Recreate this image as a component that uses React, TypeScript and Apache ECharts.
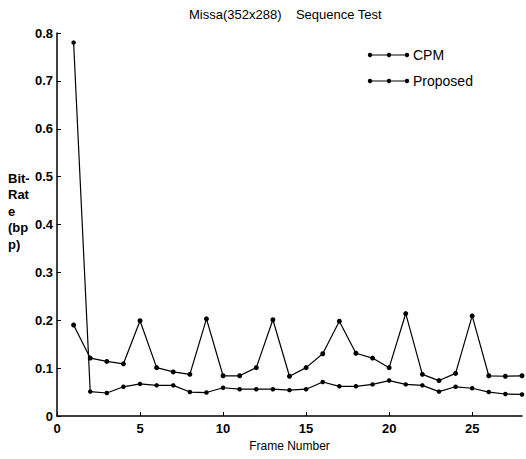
import React, { useEffect, useRef } from "react";
import * as echarts from "echarts";

const frames = [1,2,3,4,5,6,7,8,9,10,11,12,13,14,15,16,17,18,19,20,21,22,23,24,25,26,27,28];
const cpm = [0.19,0.121,0.114,0.109,0.199,0.101,0.092,0.087,0.203,0.084,0.084,0.101,0.201,0.083,0.101,0.130,0.198,0.131,0.121,0.101,0.214,0.087,0.074,0.089,0.209,0.084,0.083,0.084];
const proposed = [0.78,0.051,0.048,0.061,0.067,0.064,0.064,0.050,0.049,0.059,0.056,0.056,0.056,0.054,0.056,0.071,0.062,0.062,0.066,0.074,0.066,0.064,0.051,0.061,0.058,0.050,0.046,0.045];
const seriesNames = ["CPM", "Proposed"];
const titleText = "Missa(352x288)    Sequence Test";
const yName = "Bit-\nRat\ne\n(bp\np)";
const xName = "Frame Number";

export default function App() {
  const ref = useRef<HTMLDivElement>(null);
  useEffect(() => {
    if (!ref.current) return;
    const chart = echarts.init(ref.current, null, { renderer: "svg" });
    const font = "Liberation Sans, Arial, sans-serif";
    const legendGraphics: any[] = [];
    seriesNames.forEach((name, i) => {
      const y = 55 + i * 26;
      legendGraphics.push({ type: "line", shape: { x1: 370, y1: y, x2: 408, y2: y }, style: { stroke: "#000", lineWidth: 1 } });
      [370, 389, 407].forEach((cx) =>
        legendGraphics.push({ type: "circle", shape: { cx, cy: y, r: 2.2 }, style: { fill: "#000" } })
      );
      legendGraphics.push({
        type: "text",
        x: 413,
        y,
        style: { text: name, fontSize: 14, fill: "#000", fontFamily: font, verticalAlign: "middle" },
      });
    });
    chart.setOption({
      animation: false,
      backgroundColor: "#fff",
      textStyle: { fontFamily: font, color: "#000" },
      title: {
        text: titleText,
        left: 184,
        top: 3,
        textStyle: { fontSize: 13, fontWeight: "normal", color: "#000", fontFamily: font },
      },
      grid: { left: 57, right: 4, top: 33, bottom: 43 },
      xAxis: {
        type: "value",
        min: 0,
        max: 28,
        interval: 5,
        name: xName,
        nameLocation: "middle",
        nameGap: 23,
        nameTextStyle: { fontSize: 12, color: "#000" },
        axisLine: { lineStyle: { color: "#000", width: 1.5 } },
        axisTick: { inside: true, length: 4, lineStyle: { color: "#000" } },
        axisLabel: { fontSize: 13, fontWeight: "bold", color: "#000", showMaxLabel: false, margin: 6 },
        splitLine: { show: false },
      },
      yAxis: {
        type: "value",
        min: 0,
        max: 0.8,
        interval: 0.1,
        axisLine: { show: true, lineStyle: { color: "#000", width: 1.5 } },
        axisTick: { show: true, inside: true, length: 4, lineStyle: { color: "#000" } },
        axisLabel: { fontSize: 13, fontWeight: "bold", color: "#000", margin: 4 },
        splitLine: { show: false },
      },
      graphic: [
        {
          type: "text",
          left: 8,
          top: 170,
          style: { text: yName, fontSize: 13, fontWeight: "bold", fill: "#000", lineHeight: 16.5, fontFamily: font },
        },
        ...legendGraphics,
      ],
      series: [
        {
          name: seriesNames[0],
          type: "line",
          data: frames.map((f, i) => [f, cpm[i]]),
          symbol: "circle",
          symbolSize: 5,
          lineStyle: { color: "#000", width: 1.2 },
          itemStyle: { color: "#000" },
        },
        {
          name: seriesNames[1],
          type: "line",
          data: frames.map((f, i) => [f, proposed[i]]),
          symbol: "circle",
          symbolSize: 4.5,
          lineStyle: { color: "#000", width: 1.2 },
          itemStyle: { color: "#000" },
        },
      ],
    });
    return () => chart.dispose();
  }, []);
  return <div ref={ref} style={{ width: 526, height: 459, position: "absolute", left: 0, top: 0 }} />;
}
